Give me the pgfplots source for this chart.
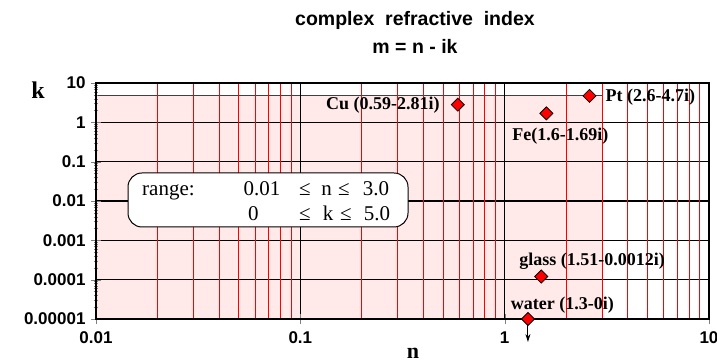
\documentclass[border=0pt]{standalone}
\usepackage{fontspec}
\setmainfont{Liberation Serif}
\setsansfont{Liberation Sans}
\usepackage{pgfplots}
\pgfplotsset{compat=1.18}
\usetikzlibrary{arrows.meta}
\definecolor{pinkfill}{RGB}{255,233,233}
\newcommand{\redline}[1]{\draw[red, line width=0.9pt] (axis cs:#1,1e-5) -- (axis cs:#1,10);}
\begin{document}
\begin{tikzpicture}
\begin{axis}[
  name=ax, at={(0pt,0pt)}, anchor=south west,
  scale only axis, width=613pt, height=236pt,
  xmode=log, ymode=log,
  xmin=0.01, xmax=10, ymin=1e-5, ymax=10,
  xtick={0.01,0.1,1,10}, xticklabels={0.01,0.1,1,10},
  ytick={1e-5,1e-4,1e-3,1e-2,0.1,1,10},
  yticklabels={0.00001,0.0001,0.001,0.01,0.1,1,10},
  xminorticks=false,
  xmajorgrids, ymajorgrids,
  major grid style={black, line width=1.2pt},
  axis line style={black, line width=1.4pt},
  tick align=center, tick pos=left,
  major tick length=10pt, minor tick length=5pt,
  /pgf/number format/assume math mode=true,
  ticklabel style={font=\sffamily\bfseries\fontsize{17}{17}\selectfont},
  xticklabel style={yshift=-4pt},
  yticklabel style={xshift=-2pt},
  set layers, clip=false,
]
\begin{pgfonlayer}{axis background}
\fill[pinkfill] (axis cs:0.01,1e-5) rectangle (axis cs:3,5);
\draw[black!75, line width=0.6pt] (axis cs:0.01,5) -- (axis cs:3,5);
\end{pgfonlayer}
\begin{pgfonlayer}{axis grid}
\redline{0.02}\redline{0.03}\redline{0.04}\redline{0.05}\redline{0.06}\redline{0.07}\redline{0.08}\redline{0.09}
\redline{0.2}\redline{0.3}\redline{0.4}\redline{0.5}\redline{0.6}\redline{0.7}\redline{0.8}\redline{0.9}
\redline{2}\redline{3}\redline{4}\redline{5}\redline{6}\redline{7}\redline{8}\redline{9}
\end{pgfonlayer}
\addplot[only marks, mark=square*, mark size=4.6pt,
  mark options={rotate=45, fill=red, draw=black, line width=0.8pt}]
  coordinates {(0.59,2.81) (1.6,1.69) (2.6,4.7) (1.51,0.00012) (1.3,0.00001)};
\draw[line width=1pt, -{Stealth[length=8pt,width=5pt]}] (axis cs:1.3,1e-5) -- ++(0pt,-23pt);
\begin{scope}[every node/.style={font=\rmfamily\bfseries\fontsize{18}{18}\selectfont, inner sep=0pt}]
\node[anchor=east] at ([xshift=-18pt]axis cs:0.59,2.81) {Cu (0.59-2.81i)};
\node at ([xshift=14pt, yshift=-23pt]axis cs:1.6,1.69) {Fe(1.6-1.69i)};
\node[anchor=west] at ([xshift=16pt, yshift=-1pt]axis cs:2.6,4.7) {Pt (2.6-4.7i)};
\node at ([xshift=51pt, yshift=15pt]axis cs:1.51,0.00012) {glass (1.51-0.0012i)};
\node at ([xshift=34.5pt, yshift=14pt]axis cs:1.3,0.00001) {water (1.3-0i)};
\end{scope}
\end{axis}
% range box
\draw[rounded corners=14pt, fill=white, line width=1pt] (32pt,92pt) rectangle (312pt,146pt);
\begin{scope}[every node/.style={font=\rmfamily\fontsize{21}{21}\selectfont, inner sep=0pt, anchor=base}]
\node[anchor=base west] at (46pt,123.3pt) {range:};
\node at (166pt,123.3pt) {0.01};
\node at (209pt,123.3pt) {≤};
\node at (230.7pt,123.3pt) {n};
\node at (248pt,123.3pt) {≤};
\node at (280pt,123.3pt) {3.0};
\node at (157.3pt,98.7pt) {0};
\node at (209pt,98.7pt) {≤};
\node at (232pt,98.7pt) {k};
\node at (250pt,98.7pt) {≤};
\node at (281pt,98.7pt) {5.0};
\end{scope}
% titles and axis labels
\node[font=\sffamily\bfseries\fontsize{19.5}{19.5}\selectfont] at (319pt,299pt) {complex\ \ refractive\ \ index};
\node[font=\sffamily\bfseries\fontsize{19.5}{19.5}\selectfont] at (319pt,272.5pt) {m = n - ik};
\node[font=\rmfamily\bfseries\fontsize{24}{24}\selectfont] at (-58pt,229pt) {k};
\node[font=\rmfamily\bfseries\fontsize{22}{22}\selectfont, anchor=base, inner sep=0pt] at (317pt,-40pt) {n};
\pgfresetboundingbox
\path[use as bounding box] (-96pt,-44pt) rectangle (621pt,319pt);
\end{tikzpicture}
\end{document}
